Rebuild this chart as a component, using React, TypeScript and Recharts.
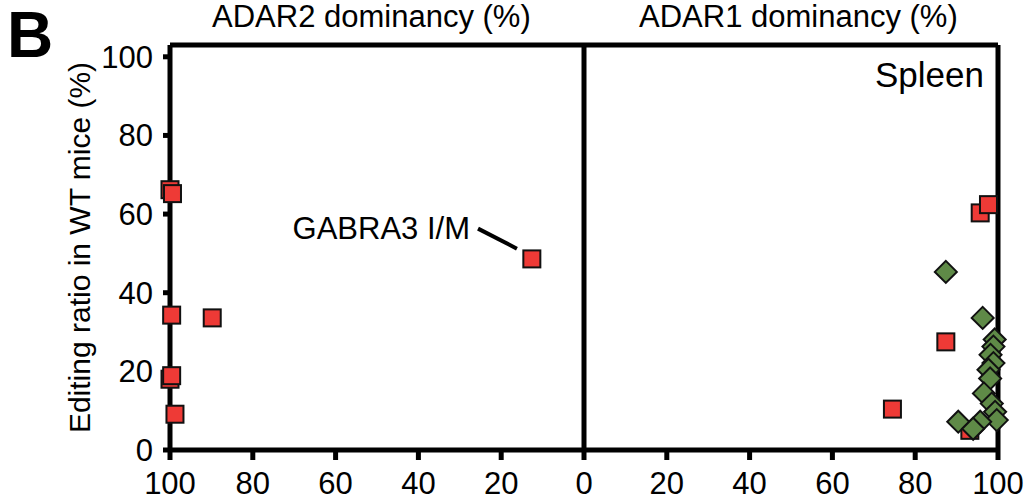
import { ScatterChart, Scatter, XAxis, YAxis, ReferenceLine } from 'recharts'

const FONT = '"Liberation Sans", Arial, Helvetica, sans-serif'

// x < 0: ADAR2 dominancy, x > 0: ADAR1 dominancy (both shown as %)
const xTicks = [-100, -80, -60, -40, -20, 0, 20, 40, 60, 80, 100]
const yTicks = [0, 20, 40, 60, 80, 100]

const redPoints = [
  { x: -100, y: 66.2 },
  { x: -99.4, y: 65.2 },
  { x: -99.6, y: 34.3 },
  { x: -89.8, y: 33.6 },
  { x: -100, y: 18.0 },
  { x: -99.6, y: 18.9 },
  { x: -98.8, y: 9.1 },
  { x: -12.6, y: 48.6 },
  { x: 95.7, y: 60.3 },
  { x: 97.7, y: 62.4 },
  { x: 87.4, y: 27.5 },
  { x: 74.5, y: 10.4 },
  { x: 93.2, y: 5.0 },
]

const greenPoints = [
  { x: 87.4, y: 45.3 },
  { x: 96.3, y: 33.6 },
  { x: 99.2, y: 28.1 },
  { x: 98.9, y: 26.3 },
  { x: 98.2, y: 24.2 },
  { x: 98.9, y: 22.1 },
  { x: 97.7, y: 20.4 },
  { x: 98.1, y: 18.2 },
  { x: 96.6, y: 14.4 },
  { x: 98.5, y: 11.8 },
  { x: 99.3, y: 9.7 },
  { x: 99.7, y: 7.6 },
  { x: 90.4, y: 7.2 },
  { x: 95.7, y: 7.2 },
  { x: 94.0, y: 5.4 },
]

const gabraLine = [
  { x: -25.6, y: 56.3 },
  { x: -16.2, y: 51.2 },
]

function Square(props: any) {
  const { cx, cy } = props
  return <rect x={cx - 8.5} y={cy - 8.5} width={17} height={17} fill="#ee3a36" stroke="#111" strokeWidth={2} />
}

function Diamond(props: any) {
  const { cx, cy } = props
  const r = 11
  return (
    <polygon
      points={`${cx},${cy - r} ${cx + r},${cy} ${cx},${cy + r} ${cx - r},${cy}`}
      fill="#5f8a47"
      stroke="#111"
      strokeWidth={2}
    />
  )
}

export default function App() {
  const axisLine = { stroke: '#000', strokeWidth: 5 }
  const tickStyle = { fill: '#000', fontSize: 31, fontFamily: FONT }
  const titleStyle = { position: 'absolute' as const, top: 0, fontSize: 31, lineHeight: '33px', whiteSpace: 'nowrap' as const }
  return (
    <div style={{ position: 'absolute', left: 0, top: 0, width: 1024, height: 502, background: '#fff', fontFamily: FONT }}>
      <div style={{ ...titleStyle, left: 212 }}>ADAR2 dominancy (%)</div>
      <div style={{ ...titleStyle, left: 639 }}>ADAR1 dominancy (%)</div>
      <div style={{ position: 'absolute', left: 7, top: -2, fontSize: 64, fontWeight: 'bold' }}>B</div>
      <ScatterChart width={1024} height={502} margin={{ top: 45, right: 26, bottom: 0, left: 0 }}>
        <XAxis
          type="number"
          dataKey="x"
          domain={[-100, 100]}
          ticks={xTicks}
          tickFormatter={(v: number) => String(Math.abs(v))}
          axisLine={axisLine}
          tickLine={axisLine}
          tickSize={10}
          tickMargin={12}
          tick={tickStyle}
          height={52}
        />
        <YAxis
          type="number"
          dataKey="y"
          domain={[0, 103]}
          ticks={yTicks}
          axisLine={axisLine}
          tickLine={axisLine}
          tickSize={7}
          tickMargin={10}
          tick={tickStyle}
          width={170}
          allowDataOverflow
          label={{
            value: 'Editing ratio in WT mice (%)',
            angle: -90,
            position: 'center',
            dx: -6,
            style: { fill: '#000', fontSize: 30, fontFamily: FONT, textAnchor: 'middle' },
          }}
        />
        <ReferenceLine y={103} stroke="#000" strokeWidth={5} ifOverflow="visible" />
        <ReferenceLine x={100} stroke="#000" strokeWidth={5} ifOverflow="visible" />
        <ReferenceLine
          x={0}
          stroke="#000"
          strokeWidth={5}
          label={{ value: 'Spleen', content: (p: any) => {
            const vb = p.viewBox
            return (
              <text x={vb.x + 400} y={vb.y + 42} textAnchor="end" fontSize={35} fontFamily={FONT} fill="#000">
                Spleen
              </text>
            )
          } }}
        />
        <ReferenceLine
          segment={gabraLine}
          stroke="#000"
          strokeWidth={4}
          label={{ value: 'GABRA3 I/M', content: (p: any) => {
            const vb = p.viewBox
            return (
              <text x={vb.x - 8} y={vb.y + 10} textAnchor="end" fontSize={31} fontFamily={FONT} fill="#000">
                GABRA3 I/M
              </text>
            )
          } }}
        />
        <Scatter data={redPoints} shape={<Square />} isAnimationActive={false} />
        <Scatter data={greenPoints} shape={<Diamond />} isAnimationActive={false} />
      </ScatterChart>
    </div>
  )
}
